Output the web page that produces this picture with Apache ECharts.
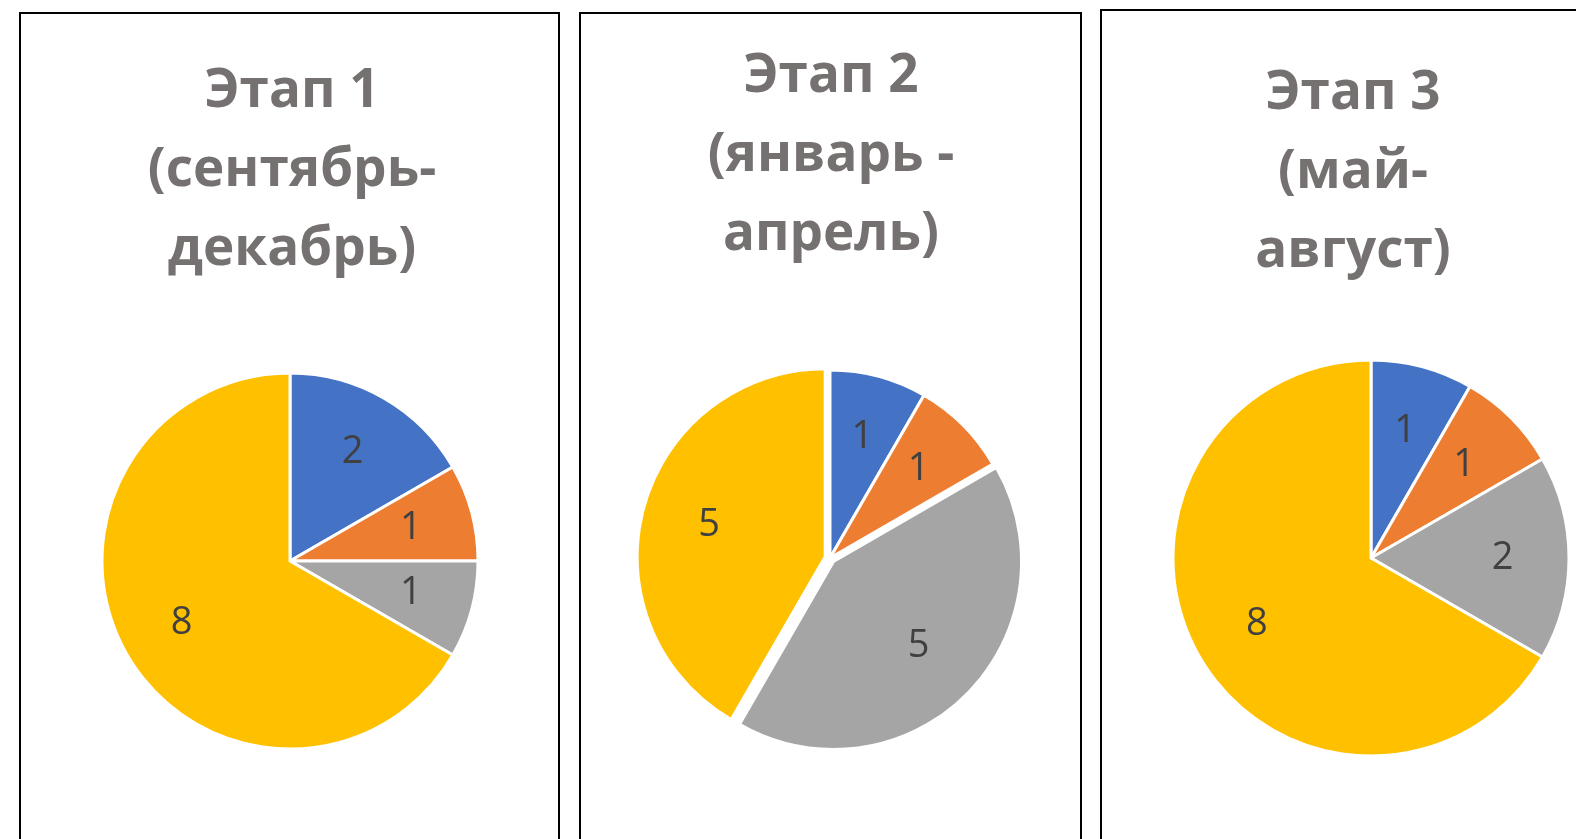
<!DOCTYPE html>
<html>
<head>
<meta charset="utf-8">
<script src="https://cdn.jsdelivr.net/npm/echarts@6/dist/echarts.min.js"></script>
<style>
  html, body { margin: 0; padding: 0; background: #fff; }
  #chart { width: 1576px; height: 839px; }
</style>
</head>
<body>
<div id="chart"></div>
<script>
const categories = ["Категория 1", "Категория 2", "Категория 3", "Категория 4"];
const stage1Values = [2, 1, 1, 8];
const stage2Values = [1, 1, 5, 5];
const stage3Values = [1, 1, 2, 8];
const stageTitles = [
  "Этап 1\n(сентябрь-\nдекабрь)",
  "Этап 2\n(январь -\nапрель)",
  "Этап 3\n(май-\nавгуст)",
];
const colors = ["#4472C4", "#ED7D31", "#A5A5A5", "#FFC000"];

// layout of the three panels
const panels = [
  { frame: [20, 13, 539], titleX: 292, titleY: 171, center: [290, 561], r: 188, exploded: [] },
  { frame: [580, 13, 501], titleX: 831, titleY: 156, center: [830, 558], r: 188, exploded: [2, 3] },
  { frame: [1101, 10, 600], titleX: 1353, titleY: 173, center: [1371, 558], r: 198, exploded: [] },
];
const allValues = [stage1Values, stage2Values, stage3Values];

const chartDom = document.getElementById("chart");
const myChart = echarts.init(chartDom);

const series = [];
const graphic = [];

panels.forEach((p, i) => {
  const values = allValues[i];
  graphic.push({
    type: "rect",
    shape: { x: p.frame[0], y: p.frame[1], width: p.frame[2], height: 900 },
    style: { fill: "none", stroke: "#000", lineWidth: 2 },
    silent: true,
  });
  graphic.push({
    type: "text",
    x: p.titleX,
    y: p.titleY,
    style: {
      text: stageTitles[i],
      font: "bold 53px 'Open Sans'",
      fill: "#757171",
      align: "center",
      verticalAlign: "middle",
      lineHeight: 79,
    },
    silent: true,
  });

  // pie slices
  series.push({
    type: "pie",
    z: 2,
    center: p.center,
    radius: [0, p.r],
    startAngle: 90,
    clockwise: true,
    selectedMode: "multiple",
    selectedOffset: 5,
    animation: false,
    silent: true,
    label: { show: false },
    labelLine: { show: false },
    itemStyle: { borderColor: "#fff", borderWidth: 3 },
    data: values.map((v, j) => ({
      name: categories[j],
      value: v,
      selected: p.exploded.includes(j),
      itemStyle: { color: colors[j] },
    })),
  });

  // value labels, a bit further out than the default inside position
  // (higher z so the lifted selected slices don't cover them)
  series.push({
    type: "pie",
    z: 10,
    center: p.center,
    radius: [p.r * 0.3, p.r],
    startAngle: 90,
    clockwise: true,
    animation: false,
    silent: true,
    avoidLabelOverlap: false,
    itemStyle: { color: "transparent" },
    label: {
      show: true,
      position: "inside",
      formatter: "{c}",
      color: "#404040",
      fontSize: 38,
      fontFamily: "Open Sans",
    },
    labelLine: { show: false },
    data: values.map((v) => ({ value: v })),
  });
});

const option = {
  animation: false,
  graphic: graphic,
  series: series,
};

myChart.setOption(option);

window.addEventListener("resize", () => myChart.resize());
</script>
</body>
</html>
